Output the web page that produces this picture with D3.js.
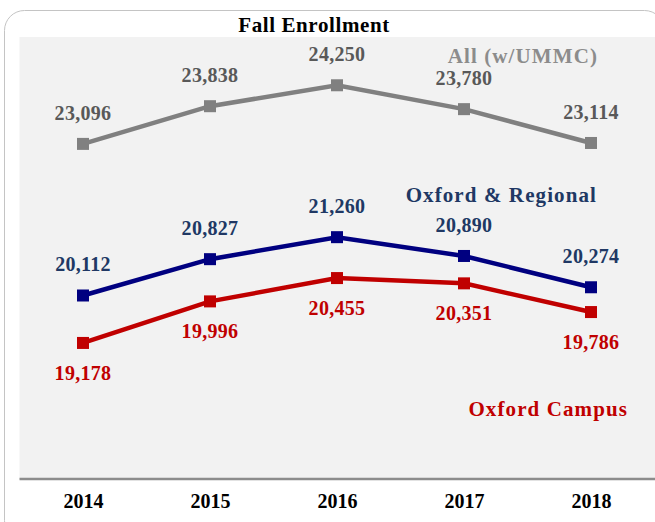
<!DOCTYPE html>
<html><head><meta charset="utf-8">
<script src="https://cdnjs.cloudflare.com/ajax/libs/d3/7.8.5/d3.min.js"></script>
<style>html,body{margin:0;padding:0;background:#fff;}svg{display:block;}</style>
</head><body>
<svg id="chart" width="655" height="522"></svg>
<script>
const years = ["2014","2015","2016","2017","2018"];
const allValues = [23096, 23838, 24250, 23780, 23114];
const oxfordRegionalValues = [20112, 20827, 21260, 20890, 20274];
const oxfordCampusValues = [19178, 19996, 20455, 20351, 19786];
const seriesNames = ["All (w/UMMC)", "Oxford & Regional", "Oxford Campus"];

const svg = d3.select("#chart");
const plot = {left: 19.5, right: 655, top: 37, bottom: 479};

// outer rounded border
svg.append("rect").attr("x", 4.5).attr("y", 10.5).attr("width", 660).attr("height", 530)
  .attr("rx", 20).attr("fill", "#fff").attr("stroke", "#c4c4c4").attr("stroke-width", 1);

// plot background
svg.append("rect").attr("x", plot.left).attr("y", plot.top)
  .attr("width", plot.right - plot.left).attr("height", plot.bottom - plot.top)
  .attr("fill", "#f2f2f2");

const x = d3.scalePoint().domain(years).range([19.5, 654.5]).padding(0.5);
const y = d3.scaleLinear().domain([16500, 25200]).range([plot.bottom, plot.top]);

// title
svg.append("text").attr("x", 314).attr("y", 32).attr("text-anchor", "middle")
  .attr("font-family", "'Liberation Serif', serif").attr("font-weight", "bold")
  .attr("font-size", 21).attr("letter-spacing", 0.6).attr("fill", "#000").text("Fall Enrollment");

// axis
const axis = svg.append("g").attr("transform", `translate(0,${plot.bottom})`)
  .call(d3.axisBottom(x).tickSize(0).tickPadding(15));
axis.select(".domain").attr("stroke", "#8c8c8c").attr("stroke-width", 2.5)
  .attr("d", `M${plot.left},0H${plot.right}`);
axis.selectAll("text").attr("font-family", "'Liberation Serif', serif")
  .attr("font-weight", "bold").attr("font-size", 20).attr("fill", "#000");

const series = [
  {name: seriesNames[0], values: allValues, line: "#808080", text: "#595959", nameColor: "#8c8c8c", pos: "above", lx: 598, ly: 63},
  {name: seriesNames[1], values: oxfordRegionalValues, line: "#000080", text: "#203864", nameColor: "#203864", pos: "above", lx: 597, ly: 202},
  {name: seriesNames[2], values: oxfordCampusValues, line: "#c00000", text: "#c00000", nameColor: "#c00000", pos: "below", lx: 628, ly: 416}
];

const line = d3.line().x((d, i) => x(years[i])).y(d => y(d));
const fmt = d3.format(",");

series.forEach(s => {
  const g = svg.append("g");
  g.append("path").datum(s.values).attr("d", line)
    .attr("fill", "none").attr("stroke", s.line).attr("stroke-width", 4.5);
  g.selectAll("rect.m").data(s.values).enter().append("rect").attr("class", "m")
    .attr("x", (d, i) => x(years[i]) - 6).attr("y", d => y(d) - 6)
    .attr("width", 12).attr("height", 12).attr("fill", s.line);
  g.selectAll("text.lbl").data(s.values).enter().append("text").attr("class", "lbl")
    .attr("x", (d, i) => x(years[i])).attr("y", d => s.pos === "above" ? y(d) - 24 : y(d) + 37)
    .attr("text-anchor", "middle")
    .attr("font-family", "'Liberation Serif', serif").attr("font-weight", "bold")
    .attr("font-size", 20).attr("letter-spacing", 0.3).attr("fill", s.text).text(d => fmt(d));
  svg.append("text").attr("x", s.lx).attr("y", s.ly).attr("text-anchor", "end")
    .attr("font-family", "'Liberation Serif', serif").attr("font-weight", "bold")
    .attr("font-size", 21).attr("fill", s.nameColor).attr("letter-spacing", 1.1).text(s.name);
});
</script>
</body></html>
